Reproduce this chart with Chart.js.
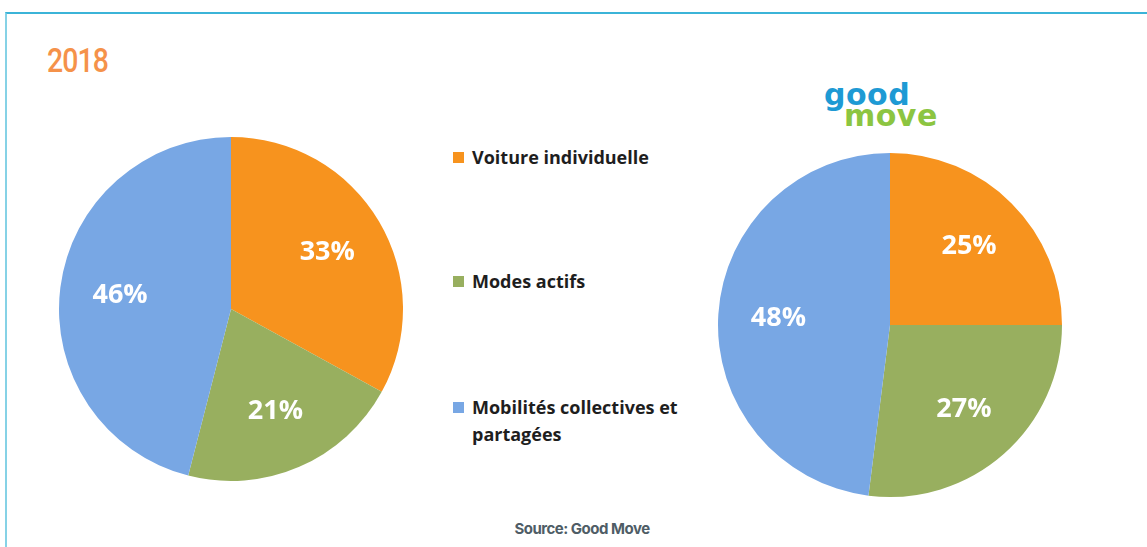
<!DOCTYPE html>
<html>
<head>
<meta charset="utf-8">
<script src="https://cdn.jsdelivr.net/npm/chart.js@4.4.1/dist/chart.umd.min.js"></script>
<style>
  html, body { margin: 0; padding: 0; background: #fff; }
  body { width: 1147px; height: 547px; position: relative; overflow: hidden; }
  .frame { position: absolute; left: 5px; top: 12px; right: -10px; bottom: -10px;
           border-top: 2px solid #3bb4d8; border-left: 2px solid #86d2e6; }
  .year { position: absolute; left: 47px; top: 41px; font: 500 33px Roboto, sans-serif;
          color: #f5924a; letter-spacing: -1px; transform: scaleX(0.86); transform-origin: left top; }
  .pie { position: absolute; }
  #pie2018 { left: 51px; top: 129px; }
  #pieGoal { left: 710px; top: 145px; }
  .legend { position: absolute; left: 453px; top: 0; font: 700 18px "Open Sans", sans-serif; color: #1e1e1e; }
  .legend .item { position: absolute; left: 0; white-space: nowrap; }
  .legend .sw { position: absolute; left: 0; top: 7px; width: 11px; height: 11px; }
  .legend .txt { position: absolute; left: 19px; top: -1px; line-height: 27px; }
  .logo { position: absolute; left: 824px; top: 80px; font-family: "DejaVu Sans", sans-serif; font-weight: 700; }
  .logo .g { color: #1e9ad4; font-size: 30px; letter-spacing: 0.5px; line-height: 30px; }
  .logo .m { color: #8cc541; font-size: 30px; letter-spacing: 0.5px; line-height: 30px; margin: -9px 0 0 20px; }
  .source { position: absolute; left: 0; width: 1164px; top: 519px; text-align: center;
            font: 700 15px Inter, sans-serif; color: #4f5d66; letter-spacing: -0.5px; }
</style>
</head>
<body>
<div class="frame"></div>
<div class="year">2018</div>
<canvas id="pie2018" class="pie" width="360" height="360"></canvas>
<canvas id="pieGoal" class="pie" width="360" height="360"></canvas>
<div class="legend" id="legend"></div>
<div class="logo"><div class="g">good</div><div class="m">move</div></div>
<div class="source">Source: Good Move</div>

<script>
const categories = ["Voiture individuelle", "Modes actifs", "Mobilités collectives et partagées"];
const shares2018 = [33, 21, 46];
const sharesGoal = [25, 27, 48];
const sliceColors = ["#f7931e", "#98af5f", "#78a7e4"];

// legend rows (y of each row's first line) and wrapped label text
const legendRows = [145, 269, 395];
const legendLines = [["Voiture individuelle"], ["Modes actifs"], ["Mobilités collectives et", "partagées"]];

const legend = document.getElementById("legend");
categories.forEach((c, i) => {
  const item = document.createElement("div");
  item.className = "item";
  item.style.top = legendRows[i] + "px";
  item.innerHTML = '<div class="sw" style="background:' + sliceColors[i] + '"></div>' +
    '<div class="txt">' + legendLines[i].join("<br>") + '</div>';
  legend.appendChild(item);
});

// white percentage labels inside each slice
const sliceLabels = {
  id: "sliceLabels",
  afterDatasetsDraw(chart) {
    const ctx = chart.ctx;
    const meta = chart.getDatasetMeta(0);
    const data = chart.data.datasets[0].data;
    ctx.save();
    ctx.fillStyle = "#ffffff";
    ctx.font = "700 27px 'Open Sans', sans-serif";
    ctx.textAlign = "center";
    ctx.textBaseline = "middle";
    meta.data.forEach((arc, i) => {
      const p = arc.getProps(["x", "y", "startAngle", "endAngle", "outerRadius"], true);
      const mid = (p.startAngle + p.endAngle) / 2;
      const r = p.outerRadius * 0.65;
      ctx.fillText(data[i] + "%", p.x + Math.cos(mid) * r, p.y + Math.sin(mid) * r);
    });
    ctx.restore();
  }
};

function makePie(id, values) {
  return new Chart(document.getElementById(id), {
    type: "pie",
    data: {
      labels: categories,
      datasets: [{
        data: values,
        backgroundColor: sliceColors,
        borderWidth: 0,
        hoverOffset: 0
      }]
    },
    options: {
      responsive: false,
      animation: false,
      radius: 172,
      layout: { padding: 0 },
      plugins: { legend: { display: false }, tooltip: { enabled: false } }
    },
    plugins: [sliceLabels]
  });
}

makePie("pie2018", shares2018);
makePie("pieGoal", sharesGoal);
</script>
</body>
</html>
